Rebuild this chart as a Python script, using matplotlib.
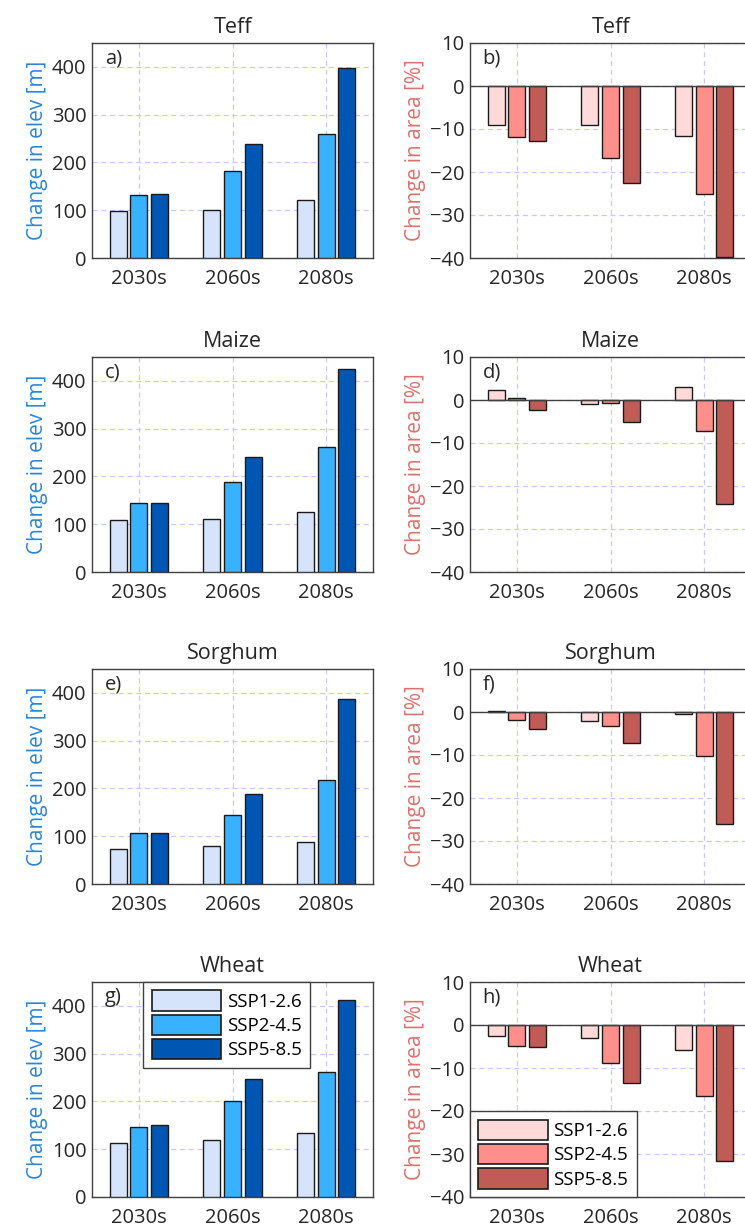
import matplotlib
matplotlib.use("Agg")
import matplotlib.pyplot as plt
import numpy as np

plt.rcParams['font.family'] = ['Open Sans', 'DejaVu Sans']

periods = ["2030s", "2060s", "2080s"]
scenarios = ["SSP1-2.6", "SSP2-4.5", "SSP5-8.5"]
crops = ["Teff", "Maize", "Sorghum", "Wheat"]
elev_letters = ["a)", "c)", "e)", "g)"]
area_letters = ["b)", "d)", "f)", "h)"]

# change in elevation [m]; rows = scenarios, cols = periods
teff_elev = [[98, 100, 121], [131, 183, 259], [135, 239, 397]]
maize_elev = [[108, 111, 126], [145, 189, 262], [145, 241, 425]]
sorghum_elev = [[74, 79, 87], [106, 145, 217], [106, 189, 387]]
wheat_elev = [[113, 120, 134], [147, 200, 261], [150, 248, 413]]

# change in area [%]
teff_area = [[-9.1, -9.1, -11.6], [-11.8, -16.7, -25.0], [-12.7, -22.6, -39.8]]
maize_area = [[2.4, -1.0, 3.0], [0.4, -0.7, -7.1], [-2.3, -5.2, -24.2]]
sorghum_area = [[0.15, -2.2, -0.5], [-1.9, -3.3, -10.2], [-4.0, -7.2, -26.1]]
wheat_area = [[-2.5, -3.0, -5.8], [-4.8, -8.8, -16.4], [-5.1, -13.5, -31.7]]

elev_data = [teff_elev, maize_elev, sorghum_elev, wheat_elev]
area_data = [teff_area, maize_area, sorghum_area, wheat_area]

blue_colors = ["#D6E4FB", "#38B1FE", "#0057B3"]
red_colors = ["#FFDAD8", "#FF8F8A", "#C15B56"]
blue_label = "#2A85D6"
red_label = "#DB716D"
grid_col = "#C8C8FF"
spine_col = "#404040"
text_col = "#262626"

W, H = 745, 1228
fig = plt.figure(figsize=(W / 100, H / 100), dpi=100)

left_x0, left_x1 = 92, 373
right_x0, right_x1 = 470, 751
tops = [43, 357, 669, 982]
ax_h = 215

x = np.arange(1, 4)
offsets = [-0.22, 0.0, 0.22]
bw = 0.18
TICK_FS = 14.5


def style_axes(ax, ylim, yticks, ylabel, lcolor, letter):
    ax.set_xlim(0.5, 3.5)
    ax.set_ylim(*ylim)
    ax.set_yticks(yticks)
    ax.set_xticks(x)
    ax.set_xticklabels(periods)
    ax.tick_params(length=0, labelsize=TICK_FS, colors=text_col)
    ax.tick_params(axis='x', pad=8)
    ax.tick_params(axis='y', pad=4)
    for s in ax.spines.values():
        s.set_color(spine_col)
        s.set_linewidth(1.0)
    ax.set_axisbelow(True)
    ax.grid(True, color=grid_col, linestyle=(0, (4, 3)), linewidth=0.9)
    ax.set_ylabel(ylabel, color=lcolor, fontsize=15, labelpad=3)
    ax.text(0.045, 0.975, letter, transform=ax.transAxes, fontsize=TICK_FS,
            color=text_col, va='top', ha='left')


def add_legend(ax, loc, anchor):
    leg = ax.legend(loc=loc, bbox_to_anchor=anchor,
                    fontsize=13.5, handlelength=3.7, handleheight=1.3,
                    borderaxespad=0, fancybox=False, framealpha=1,
                    edgecolor=spine_col, labelspacing=0.2,
                    handletextpad=0.3, borderpad=0.45)
    leg.get_frame().set_linewidth(1.0)
    for h in leg.legend_handles:
        h.set_linewidth(1.2)


for i in range(4):
    t = tops[i]
    # elevation panel
    axl = fig.add_axes([left_x0 / W, 1 - (t + ax_h) / H,
                        (left_x1 - left_x0) / W, ax_h / H])
    d = elev_data[i]
    for k in range(3):
        axl.bar(x + offsets[k], d[k], width=bw, color=blue_colors[k],
                edgecolor="#1a1a1a", linewidth=1.0, label=scenarios[k], zorder=3)
    style_axes(axl, (0, 450), [0, 100, 200, 300, 400], "Change in elev [m]",
               blue_label, elev_letters[i])
    axl.set_title(crops[i], fontsize=15.5, color=text_col, pad=7)

    # area panel
    axr = fig.add_axes([right_x0 / W, 1 - (t + ax_h) / H,
                        (right_x1 - right_x0) / W, ax_h / H])
    d = area_data[i]
    for k in range(3):
        axr.bar(x + offsets[k], d[k], width=bw, color=red_colors[k],
                edgecolor="#1a1a1a", linewidth=1.0, label=scenarios[k], zorder=3)
    axr.axhline(0, color=spine_col, linewidth=1.0, zorder=4)
    style_axes(axr, (-40, 10), [-40, -30, -20, -10, 0, 10], "Change in area [%]",
               red_label, area_letters[i])
    axr.set_title(crops[i], fontsize=15.5, color=text_col, pad=7)

    if i == 3:
        add_legend(axl, 'upper left', (0.183, 1.0))
        add_legend(axr, 'lower left', (0.0, 0.0))

fig.savefig("out.png", dpi=100)
